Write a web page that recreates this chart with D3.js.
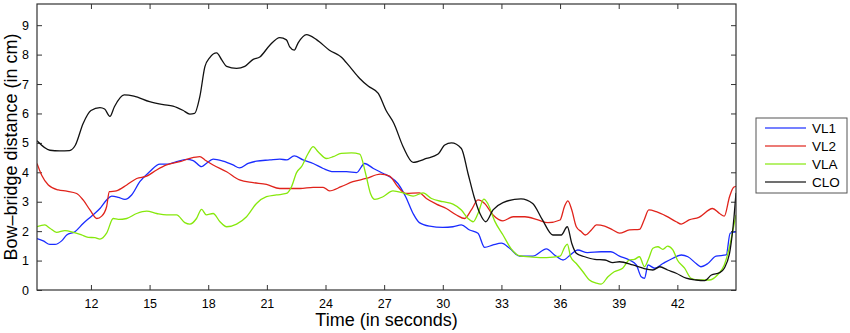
<!DOCTYPE html>
<html>
<head>
<meta charset="utf-8">
<script src="https://cdn.jsdelivr.net/npm/d3@7"></script>
<style>
  body { margin: 0; background: #fff; }
  svg { font-family: "Liberation Sans", Arial, sans-serif; }
  .axis path, .axis line { stroke: #333; }
  .axis text { font-size: 12.5px; fill: #000; }
</style>
</head>
<body>
<div id="chart"></div>
<script>
// Bow-bridge distance per string: [time (s), distance (cm)]
const vl1 = [[9.24,1.75],[9.56,1.67],[9.9,1.55],[10.16,1.55],[10.5,1.67],[10.76,1.87],[11.18,1.98],[11.6,2.26],[12.03,2.51],[12.46,2.77],[12.8,3.06],[13.06,3.19],[13.4,3.15],[13.74,3.08],[14.08,3.23],[14.5,3.68],[15.0,4.02],[15.53,4.28],[15.95,4.28],[16.38,4.36],[16.89,4.44],[17.23,4.4],[17.66,4.19],[17.9,4.3],[18.25,4.45],[18.76,4.38],[19.27,4.25],[19.6,4.15],[20.04,4.3],[20.47,4.38],[21.15,4.42],[21.66,4.45],[22.0,4.42],[22.4,4.56],[22.85,4.42],[23.37,4.3],[23.88,4.13],[24.4,4.02],[25.07,4.02],[25.59,3.99],[26.0,4.3],[26.45,4.13],[26.96,3.96],[27.28,3.85],[27.7,3.62],[28.1,3.17],[28.48,2.6],[28.8,2.29],[29.33,2.17],[30.0,2.13],[30.52,2.15],[30.95,2.21],[31.37,2.04],[31.8,1.93],[32.14,1.45],[32.57,1.53],[33.0,1.59],[33.42,1.42],[33.93,1.15],[34.6,1.15],[35.3,1.4],[35.75,1.17],[36.15,1.02],[36.57,1.22],[36.9,1.36],[37.4,1.27],[38.1,1.3],[38.6,1.3],[39.04,1.15],[39.55,1.02],[39.9,0.85],[40.15,0.45],[40.32,0.4],[40.5,0.85],[40.84,0.74],[41.26,0.9],[41.77,1.08],[42.2,1.19],[42.54,1.13],[42.96,0.9],[43.2,0.79],[43.56,0.9],[43.98,1.15],[44.5,1.19],[44.7,1.93],[45.0,1.98]];

const vl2 = [[9.24,4.3],[9.48,3.9],[9.82,3.57],[10.33,3.4],[10.76,3.36],[11.27,3.28],[11.6,3.06],[11.95,2.72],[12.3,2.43],[12.55,2.51],[12.8,2.83],[12.94,3.34],[13.3,3.37],[13.83,3.57],[14.34,3.79],[14.85,3.87],[15.36,4.08],[15.87,4.25],[16.55,4.36],[17.06,4.47],[17.57,4.53],[17.83,4.42],[18.25,4.25],[18.94,4.02],[19.6,3.74],[20.3,3.65],[20.98,3.59],[21.66,3.45],[22.17,3.45],[22.7,3.45],[23.37,3.49],[23.88,3.49],[24.2,3.37],[24.8,3.51],[25.4,3.68],[26.08,3.79],[26.8,3.94],[27.28,3.87],[27.7,3.51],[28.1,3.28],[28.8,3.3],[29.16,3.11],[29.67,2.92],[30.18,2.77],[30.7,2.55],[31.12,2.43],[31.46,2.72],[31.8,3.06],[32.14,2.94],[32.57,2.55],[33.08,2.35],[33.6,2.49],[34.2,2.49],[34.87,2.38],[35.38,2.29],[36.0,2.38],[36.23,2.85],[36.4,3.03],[36.6,2.72],[36.83,2.15],[37.09,1.98],[37.3,1.87],[37.6,2.04],[37.86,2.21],[38.28,2.17],[38.7,2.04],[39.04,1.93],[39.55,2.04],[40.06,2.06],[40.3,2.38],[40.54,2.72],[40.92,2.66],[41.43,2.51],[41.94,2.32],[42.2,2.24],[42.6,2.38],[43.1,2.47],[43.8,2.77],[44.16,2.6],[44.4,2.51],[44.67,3.17],[44.88,3.49],[45.0,3.52]];

const vla = [[9.24,2.15],[9.64,2.21],[9.9,2.1],[10.24,1.96],[10.67,2.02],[11.1,1.96],[11.52,1.87],[11.86,1.79],[12.2,1.78],[12.46,1.73],[12.8,1.93],[13.14,2.43],[13.4,2.4],[13.83,2.43],[14.34,2.6],[14.85,2.68],[15.36,2.6],[15.87,2.55],[16.38,2.55],[16.8,2.29],[17.06,2.24],[17.4,2.43],[17.66,2.74],[17.9,2.55],[18.25,2.6],[18.6,2.32],[18.94,2.15],[19.45,2.24],[19.96,2.49],[20.47,2.94],[20.98,3.17],[21.49,3.23],[22.0,3.28],[22.26,3.51],[22.52,3.99],[22.77,4.19],[23.11,4.64],[23.37,4.87],[23.62,4.7],[24.05,4.47],[24.39,4.53],[24.8,4.64],[25.33,4.66],[25.75,4.62],[26.05,3.96],[26.3,3.28],[26.52,3.08],[26.94,3.17],[27.45,3.37],[27.97,3.3],[28.48,3.19],[28.99,3.3],[29.42,3.11],[30.0,3.0],[30.52,2.92],[30.95,2.72],[31.29,2.43],[31.55,2.32],[31.8,2.6],[32.1,3.09],[32.3,2.94],[32.65,2.35],[33.08,1.87],[33.5,1.4],[33.9,1.17],[34.6,1.12],[35.3,1.1],[36.0,1.15],[36.23,1.45],[36.37,1.56],[36.54,1.13],[36.83,0.9],[37.17,0.62],[37.5,0.34],[37.86,0.23],[38.1,0.2],[38.45,0.45],[38.77,0.62],[39.2,0.74],[39.55,1.02],[39.8,1.04],[40.06,1.13],[40.32,0.79],[40.54,1.08],[40.75,1.42],[41.0,1.47],[41.26,1.38],[41.5,1.49],[41.77,1.36],[42.0,1.02],[42.37,0.74],[42.7,0.4],[43.1,0.34],[43.63,0.34],[44.05,0.51],[44.4,0.85],[44.67,1.47],[44.88,2.15],[45.0,2.55]];

const clo = [[9.24,5.07],[9.9,4.75],[10.4,4.73],[10.9,4.74],[11.2,4.92],[11.6,5.66],[12.0,6.1],[12.46,6.2],[12.7,6.15],[12.97,5.9],[13.2,6.23],[13.7,6.63],[14.2,6.59],[15.0,6.4],[15.7,6.3],[16.2,6.25],[16.7,6.11],[17.06,5.98],[17.3,6.0],[17.57,6.57],[17.83,7.59],[18.08,7.9],[18.43,8.06],[18.7,7.81],[18.94,7.6],[19.45,7.53],[19.87,7.6],[20.3,7.84],[20.64,7.92],[21.15,8.32],[21.66,8.58],[22.0,8.5],[22.17,8.26],[22.4,8.15],[22.6,8.4],[23.03,8.68],[23.54,8.51],[24.2,8.15],[24.8,7.92],[25.24,7.59],[25.75,7.19],[26.18,6.93],[26.7,6.68],[27.1,6.1],[27.5,5.66],[27.97,4.87],[28.48,4.34],[29.16,4.47],[29.76,4.62],[30.1,4.93],[30.44,5.0],[30.95,4.81],[31.29,3.96],[31.6,3.17],[31.9,2.6],[32.2,2.32],[32.57,2.72],[33.08,2.97],[34.0,3.1],[34.6,2.94],[35.1,2.38],[35.63,1.87],[36.06,1.87],[36.37,2.15],[36.6,1.58],[36.83,1.25],[37.26,1.13],[37.77,1.04],[38.3,1.02],[38.7,0.93],[39.04,0.96],[39.72,0.85],[40.24,0.74],[40.75,0.68],[41.1,0.79],[41.5,0.68],[41.94,0.57],[42.45,0.4],[42.96,0.34],[43.4,0.32],[43.74,0.51],[44.16,0.59],[44.4,0.74],[44.7,1.36],[44.9,2.49],[45.0,3.3]];

const seriesNames = ["VL1", "VL2", "VLA", "CLO"];
const seriesColors = ["#1a2cff", "#e0231b", "#86e80c", "#111111"];
const xTicks = [12, 15, 18, 21, 24, 27, 30, 33, 36, 39, 42];
const yTicks = [0, 1, 2, 3, 4, 5, 6, 7, 8, 9];

const series = [vl1, vl2, vla, clo];

const width = 850, height = 333;
const margin = { top: 4, right: 114, bottom: 43, left: 37 };
const w = width - margin.left - margin.right;
const h = height - margin.top - margin.bottom;

const svg = d3.select("#chart").append("svg")
  .attr("width", width)
  .attr("height", height);

const g = svg.append("g")
  .attr("transform", "translate(" + margin.left + "," + margin.top + ")");

const x = d3.scaleLinear().domain([9.24, 45]).range([0, w]);
const y = d3.scaleLinear().domain([0, 9.72]).range([h, 0]);

// clip so lines stay inside the box
g.append("clipPath").attr("id", "clip")
  .append("rect").attr("width", w).attr("height", h);

// MATLAB-style axes: ticks point inward on all four sides
g.append("g").attr("class", "axis")
  .attr("transform", "translate(0," + h + ")")
  .call(d3.axisBottom(x).tickValues(xTicks).tickSize(-5).tickPadding(9).tickSizeOuter(0))
  .call(a => a.select(".domain").remove());

g.append("g").attr("class", "axis")
  .call(d3.axisTop(x).tickValues(xTicks).tickSize(-5).tickFormat("").tickSizeOuter(0))
  .call(a => a.select(".domain").remove());

g.append("g").attr("class", "axis")
  .call(d3.axisLeft(y).tickValues(yTicks).tickSize(-5).tickPadding(8).tickSizeOuter(0))
  .call(a => a.select(".domain").remove());

g.append("g").attr("class", "axis")
  .attr("transform", "translate(" + w + ",0)")
  .call(d3.axisRight(y).tickValues(yTicks).tickSize(-5).tickFormat("").tickSizeOuter(0))
  .call(a => a.select(".domain").remove());

const line = d3.line()
  .x(d => x(d[0]))
  .y(d => y(d[1]))
  .curve(d3.curveMonotoneX);

g.append("g").attr("clip-path", "url(#clip)")
  .selectAll("path")
  .data(series)
  .join("path")
  .attr("d", line)
  .attr("fill", "none")
  .attr("stroke", (d, i) => seriesColors[i])
  .attr("stroke-width", 1.3)
  .attr("stroke-linejoin", "round");

// frame
g.append("rect")
  .attr("width", w).attr("height", h)
  .attr("fill", "none")
  .attr("stroke", "#333")
  .attr("stroke-width", 1.2);

// axis titles
svg.append("text")
  .attr("x", margin.left + w / 2)
  .attr("y", 326)
  .attr("text-anchor", "middle")
  .style("font-size", "18px")
  .text("Time (in seconds)");

svg.append("text")
  .attr("transform", "translate(17," + (margin.top + h / 2) + ") rotate(-90)")
  .attr("text-anchor", "middle")
  .style("font-size", "18px")
  .text("Bow\u2013bridge distance (in cm)");

// legend
const legend = svg.append("g").attr("transform", "translate(756,118)");
legend.append("rect")
  .attr("width", 91).attr("height", 75)
  .attr("fill", "#fff")
  .attr("stroke", "#555")
  .attr("stroke-width", 1);

seriesNames.forEach((name, i) => {
  legend.append("line")
    .attr("x1", 9).attr("x2", 50)
    .attr("y1", 10 + i * 18).attr("y2", 10 + i * 18)
    .attr("stroke", seriesColors[i])
    .attr("stroke-opacity", 0.8)
    .attr("stroke-width", 1.3);
  legend.append("text")
    .attr("x", 56)
    .attr("y", 10 + i * 18 + 5)
    .style("font-size", "13.5px")
    .text(name);
});
</script>
</body>
</html>
